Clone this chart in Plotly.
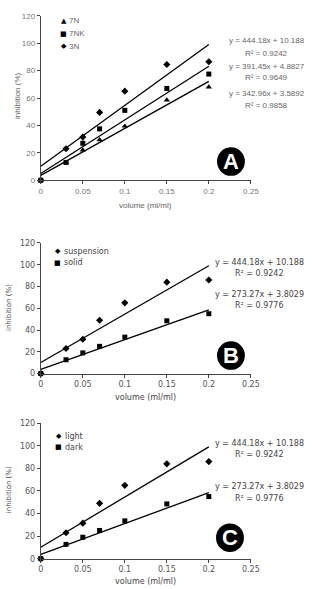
import plotly.graph_objects as go

W, H = 314, 589

# ---------------- data ----------------
volume = [0, 0.03, 0.05, 0.07, 0.1, 0.15, 0.2]

# Panel A
a_names = ["7N", "7NK", "3N"]
a_7N = [0, 13, 22, 29.5, 39.5, 58.5, 68]
a_7NK = [0, 13, 27, 37.5, 51, 67, 77.5]
a_3N = [0, 23, 31.5, 49.5, 65, 84.5, 86.5]
a_slopes = [342.96, 391.45, 444.18]
a_inter = [3.5892, 4.8827, 10.188]
a_eq = ["y = 444.18x + 10.188", "R\u00b2 = 0.9242",
        "y = 391.45x + 4.8827", "R\u00b2 = 0.9649",
        "y = 342.96x + 3.5892", "R\u00b2 = 0.9858"]

# Panel B
b_names = ["suspension", "solid"]
b_susp = [0, 23, 31.5, 49, 65, 84, 86]
b_solid = [0, 12.7, 19, 25, 33.5, 48.5, 55]
b_slopes = [444.18, 273.27]
b_inter = [10.188, 3.8029]
b_eq = ["y = 444.18x + 10.188", "R\u00b2 = 0.9242",
        "y = 273.27x + 3.8029", "R\u00b2 = 0.9776"]

# Panel C
c_names = ["light", "dark"]
c_light = [0, 23, 31.5, 49, 65, 84, 86]
c_dark = [0, 12.7, 19, 25, 33.5, 48.5, 55]
c_slopes = [444.18, 273.27]
c_inter = [10.188, 3.8029]
c_eq = ["y = 444.18x + 10.188", "R\u00b2 = 0.9242",
        "y = 273.27x + 3.8029", "R\u00b2 = 0.9776"]

x_ticks = [0, 0.05, 0.1, 0.15, 0.2, 0.25]
x_ticktext = ["0", "0.05", "0.1", "0.15", "0.2", "0.25"]
y_ticks = [0, 20, 40, 60, 80, 100, 120]
fit_x = [0, 0.2]

def px(x):
    return x / W

def py(y):
    return 1 - y / H

fig = go.Figure()

panels = [(12, 179), (242.7, 375.3), (425.7, 563.3)]
xl, xr = 39.3, 257.7

axis_font_a = dict(family="Liberation Sans, Arial", size=8, color="#777")
axis_font_b = dict(family="DejaVu Sans", size=8, color="#555")

for i, (top, bot) in enumerate(panels):
    n = "" if i == 0 else str(i + 1)
    f = axis_font_a if i == 0 else axis_font_b
    fig.layout["xaxis" + n] = dict(
        domain=[px(xl), px(xr)], range=[0, 0.25], anchor="y" + n,
        tickvals=x_ticks, ticktext=x_ticktext, ticks="outside", ticklen=3,
        showline=True, linecolor="#444", linewidth=1, showgrid=False,
        zeroline=False, tickfont=f, tickcolor="#444", fixedrange=True)
    fig.layout["yaxis" + n] = dict(
        domain=[py(bot), py(top)], range=[0, 120], anchor="x" + n,
        tickvals=y_ticks, ticks="outside", ticklen=3,
        showline=True, linecolor="#444", linewidth=1, showgrid=False,
        zeroline=False, tickfont=f, tickcolor="#444", fixedrange=True)

def scatter(xs, ys, sym, size, xa, ya):
    fig.add_trace(go.Scatter(x=xs, y=ys, mode="markers", xaxis=xa, yaxis=ya,
                             marker=dict(symbol=sym, size=size, color="black"),
                             showlegend=False, cliponaxis=False))

def fitlines(slopes, inters, xa, ya):
    xs, ys = [], []
    for m, b in zip(slopes, inters):
        xs += fit_x + [None]
        ys += [m * v + b for v in fit_x] + [None]
    fig.add_trace(go.Scatter(x=xs, y=ys, mode="lines", connectgaps=False,
                             xaxis=xa, yaxis=ya, line=dict(color="black", width=1.3),
                             showlegend=False))

# Panel A
fitlines(a_slopes, a_inter, "x", "y")
scatter(volume, a_7N, "triangle-up", 5.5, "x", "y")
scatter(volume, a_7NK, "square", 5, "x", "y")
scatter(volume, a_3N, "diamond", 5.5, "x", "y")

# Panel B
fitlines(b_slopes, b_inter, "x2", "y2")
scatter(volume, b_susp, "diamond", 5.5, "x2", "y2")
scatter(volume, b_solid, "square", 5, "x2", "y2")

# Panel C
fitlines(c_slopes, c_inter, "x3", "y3")
scatter(volume, c_light, "diamond", 5.5, "x3", "y3")
scatter(volume, c_dark, "square", 5, "x3", "y3")

ann = []

def text(x, y, t, font, xanchor="center", angle=0):
    ann.append(dict(x=px(x), y=py(y), xref="paper", yref="paper", text=t,
                    showarrow=False, font=font, xanchor=xanchor,
                    yanchor="middle", textangle=angle))

fa = dict(family="Liberation Sans, Arial", size=8, color="#666")
fb = dict(family="DejaVu Sans", size=8, color="#444")

for t, y in zip(a_eq, [37, 50, 63, 75, 91, 103]):
    text(274, y, t, fa)
for t, y in zip(b_eq, [263, 274, 295, 306]):
    text(267, y, t, fb)
for t, y in zip(c_eq, [446, 457, 490, 502]):
    text(267, y, t, fb)

text(148, 205, "volume (ml/ml)", dict(family="Liberation Sans, Arial", size=8, color="#666"))
text(15, 93, "inhibition (%)", dict(family="Liberation Sans, Arial", size=8, color="#666"), angle=-90)
text(148, 400, "volume (ml/ml)", fb)
text(7, 308, "inhibition (%)", dict(family="DejaVu Sans", size=7, color="#444"), angle=-90)
text(148, 586, "volume (ml/ml)", fb)
text(7, 493, "inhibition (%)", dict(family="DejaVu Sans", size=7, color="#444"), angle=-90)

legend_sym = {"triangle-up": "\u25B2", "square": "\u25A0", "diamond": "\u25C6"}
def legend_item(x, y, sym, label, font):
    text(x, y, legend_sym[sym], dict(family="DejaVu Sans", size=7, color="black"))
    text(x + 4, y, label, font, xanchor="left")

legend_item(63, 17, "triangle-up", a_names[0], fa)
legend_item(63, 30, "square", a_names[1], fa)
legend_item(63, 43, "diamond", a_names[2], fa)
legend_item(57, 251, "diamond", b_names[0], fb)
legend_item(57, 263, "square", b_names[1], fb)
legend_item(58, 439, "diamond", c_names[0], fb)
legend_item(58, 450, "square", c_names[1], fb)

shapes = []
for (cx, cy, letter) in [(237, 160, "A"), (237, 357, "B"), (236, 542, "C")]:
    r = 14.5
    shapes.append(dict(type="circle", xref="paper", yref="paper",
                       x0=px(cx - r), x1=px(cx + r), y0=py(cy + r), y1=py(cy - r),
                       fillcolor="black", line=dict(color="black", width=0)))
    text(cx, cy, "<b>" + letter + "</b>", dict(family="Liberation Sans, Arial", size=22, color="white"))

fig.update_layout(width=W, height=H, margin=dict(l=0, r=0, t=0, b=0),
                  paper_bgcolor="white", plot_bgcolor="white",
                  annotations=ann, shapes=shapes, showlegend=False)

fig.write_html("out.html", config={"displayModeBar": False})
